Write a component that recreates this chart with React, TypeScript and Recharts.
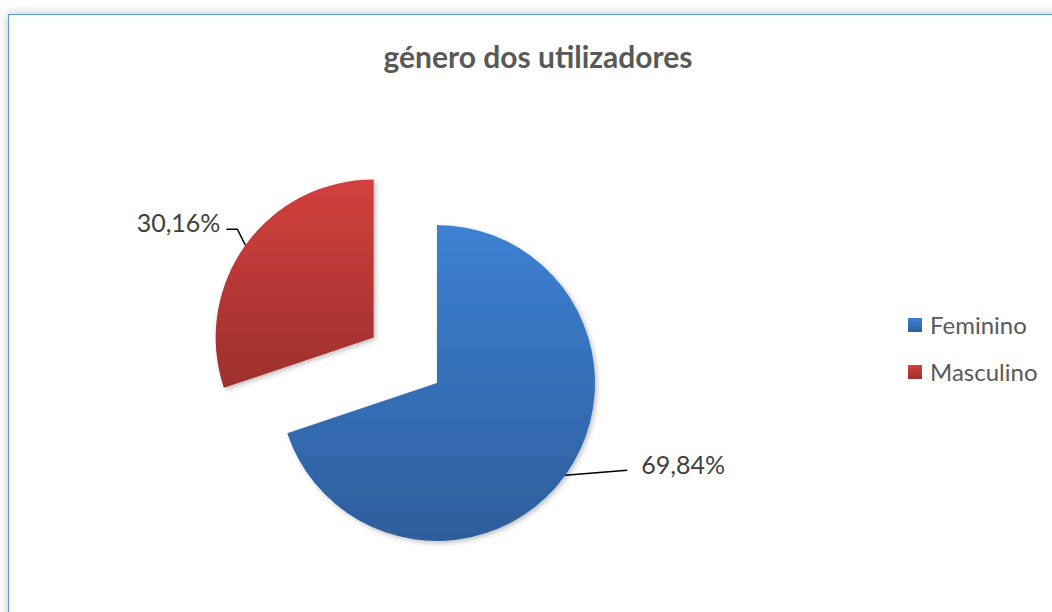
import { PieChart, Pie, Cell, Legend } from "recharts";

const categories = ["Feminino", "Masculino"];
const shares = [69.84, 30.16];
const sliceColors = [
  { top: "#3d80d2", bottom: "#2d5e9c" },
  { top: "#d2403e", bottom: "#9e2f2c" },
];
const labelTexts = ["69,84%", "30,16%"];

const data = categories.map((name, i) => ({ name, value: shares[i] }));

// pixel centre inside the chart's 5px default margin
const CX = 432;
const CY = 378;
const R = 158;
const EXPLODE = 78;
const RAD = Math.PI / 180;
const FONT = "Lato, 'Open Sans', sans-serif";

// recharts angle of the exploded slice's middle (start 90, clockwise)
const total = shares.reduce((a, b) => a + b, 0);
const midMasc = 90 - (shares[0] / total) * 360 - (shares[1] / total) * 180;
const cxM = CX + EXPLODE * Math.cos(midMasc * RAD);
const cyM = CY - EXPLODE * Math.sin(midMasc * RAD);

const renderLabel = (idx: number) => (props: any) => {
  if (props.index !== idx) return null;
  const { cx, cy, midAngle, outerRadius } = props;
  const x0 = cx + outerRadius * Math.cos(-midAngle * RAD);
  const y0 = cy + outerRadius * Math.sin(-midAngle * RAD);
  if (idx === 0) {
    const x1 = x0 + 62;
    const y1 = y0 - 5;
    return (
      <g>
        <polyline points={`${x0},${y0} ${x1},${y1}`} fill="none" stroke="#000" strokeWidth={1.5} />
        <text x={x1 + 14} y={y1 - 6} fill="#404040" fontSize={25} fontFamily={FONT} dominantBaseline="central">
          {labelTexts[idx]}
        </text>
      </g>
    );
  }
  const x1 = x0 - 8;
  const y1 = y0 - 16;
  const x2 = x1 - 11;
  return (
    <g>
      <polyline points={`${x0},${y0} ${x1},${y1} ${x2},${y1}`} fill="none" stroke="#000" strokeWidth={1.5} />
      <text x={x2 - 6} y={y1 - 7} fill="#404040" fontSize={25} fontFamily={FONT} textAnchor="end" dominantBaseline="central">
        {labelTexts[idx]}
      </text>
    </g>
  );
};

const LegendBox = () => (
  <div style={{ fontFamily: FONT, fontSize: 24, color: "#595959" }}>
    {categories.map((c, i) => (
      <div key={c} style={{ display: "flex", alignItems: "center", height: 47 }}>
        <span
          style={{
            width: 14,
            height: 14,
            marginRight: 8,
            flex: "none",
            background: `linear-gradient(${sliceColors[i].top}, ${sliceColors[i].bottom})`,
          }}
        />
        <span>{c}</span>
      </div>
    ))}
  </div>
);

export default function App() {
  return (
    <div style={{ position: "absolute", left: 0, top: 0, width: 1052, height: 612, overflow: "hidden", background: "#fff" }}>
      <div
        style={{
          position: "absolute",
          left: 8,
          top: 14,
          width: 1070,
          height: 640,
          border: "1px solid #5b9bd5",
          boxShadow: "0 0 10px rgba(0,0,0,0.25)",
          background: "#fff",
        }}
      />
      <div
        style={{
          position: "absolute",
          left: 0,
          width: 1076,
          top: 38,
          textAlign: "center",
          fontFamily: FONT,
          fontWeight: 700,
          fontSize: 30,
          lineHeight: "36px",
          color: "#595959",
        }}
      >
        género dos utilizadores
      </div>
      <div style={{ position: "absolute", left: 0, top: 0 }}>
        <PieChart width={1052} height={612}>
          <defs>
            {sliceColors.map((c, i) => (
              <linearGradient key={i} id={`grad${i}`} x1="0" y1="0" x2="0" y2="1">
                <stop offset="0%" stopColor={c.top} />
                <stop offset="100%" stopColor={c.bottom} />
              </linearGradient>
            ))}
            <filter id="shadow" x="-20%" y="-20%" width="140%" height="140%">
              <feDropShadow dx="2" dy="2" stdDeviation="2.5" floodColor="#000" floodOpacity="0.25" />
            </filter>
          </defs>
          <Pie
            data={data}
            dataKey="value"
            nameKey="name"
            cx={CX}
            cy={CY}
            outerRadius={R}
            startAngle={90}
            endAngle={-270}
            stroke="none"
            label={renderLabel(0)}
            labelLine={false}
            isAnimationActive={false}
            style={{ filter: "url(#shadow)" }}
          >
            <Cell fill="url(#grad0)" />
            <Cell fill="none" />
          </Pie>
          <Pie
            data={data}
            dataKey="value"
            nameKey="name"
            cx={cxM}
            cy={cyM}
            outerRadius={R}
            startAngle={90}
            endAngle={-270}
            stroke="none"
            label={renderLabel(1)}
            labelLine={false}
            isAnimationActive={false}
            style={{ filter: "url(#shadow)" }}
          >
            <Cell fill="none" />
            <Cell fill="url(#grad1)" />
          </Pie>
          <Legend
            content={<LegendBox />}
            wrapperStyle={{ position: "absolute", left: 908, top: 301, width: 144 }}
          />
        </PieChart>
      </div>
    </div>
  );
}
